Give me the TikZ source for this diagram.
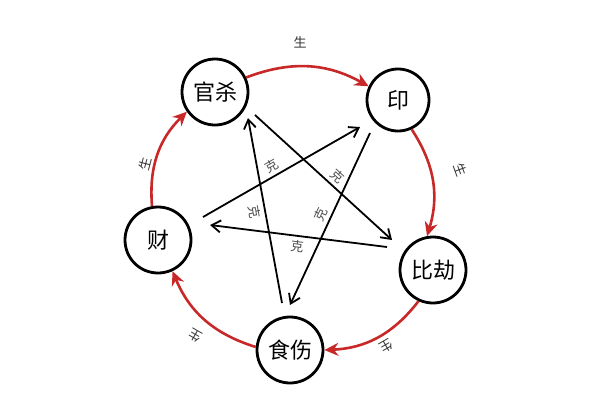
\documentclass[tikz,border=0pt]{standalone}
\usepackage{fontspec}
\setmainfont{Noto Sans CJK SC}
\usetikzlibrary{arrows.meta}
\begin{document}
\begin{tikzpicture}[x=1pt,y=-1pt,
  el/.style={circle,draw,line width=2.8pt,minimum size=66pt,inner sep=0pt,font=\fontsize{22}{22}\selectfont},
  gen/.style={draw={rgb,255:red,200;green,40;blue,40},line width=2.6pt,-{Stealth[length=14pt,width=13pt]}},
  ke/.style={line width=1.8pt,-{Straight Barb[length=9pt,width=12pt]}},
  kl/.style={font=\fontsize{13}{13}\selectfont,text=black!70,sloped},
  sl/.style={font=\fontsize{13}{13}\selectfont,text=black!80}]
\useasboundingbox (0,0) rectangle (600,400);
\node[el] (gs) at (215,92) {官杀};
\node[el,minimum size=62pt] (yin) at (398,100) {印};
\node[el] (bj) at (433,270) {比劫};
\node[el] (ss) at (290,350) {食伤};
\node[el] (cai) at (158,240) {财};
% generation arcs
\draw[gen] (gs.25) to[bend left=25] (yin.155);
\draw[gen] (yin.-65) to[bend left=25] (bj.100);
\draw[gen] (bj.-115) to[bend left=25] (ss.0);
\draw[gen] (ss.175) to[bend left=25] (cai.-65);
\draw[gen] (cai.100) to[bend left=25] (gs.-145);
\node[sl] at (300,42) {生};
\node[sl,rotate=-70] at (461,170) {生};
\node[sl,rotate=-150] at (386,346) {生};
\node[sl,rotate=150] at (195,336) {生};
\node[sl,rotate=75] at (145,164) {生};
% control star
\coordinate (a1) at (255,115); \coordinate (b1) at (392,240);
\coordinate (a2) at (203,217); \coordinate (b2) at (360,127);
\coordinate (a3) at (387,247); \coordinate (b3) at (210,225);
\coordinate (a4) at (282,303); \coordinate (b4) at (248,118);
\coordinate (a5) at (370,133); \coordinate (b5) at (290,305);
\draw[ke] (a1) -- node[kl,pos=0.55,above] {克} (b1);
\draw[ke] (a2) -- node[kl,pos=0.47,above] {克} (b2);
\draw[ke] (a3) -- node[kl,pos=0.5,below] {克} (b3);
\draw[ke] (a4) -- node[kl,pos=0.5,below] {克} (b4);
\draw[ke] (a5) -- node[kl,pos=0.5,above] {克} (b5);
\end{tikzpicture}
\end{document}
